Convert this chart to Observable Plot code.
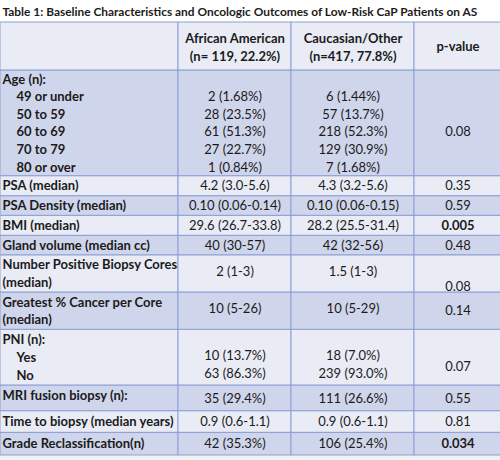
<!DOCTYPE html>
<html>
<head>
<meta charset="utf-8">
<script src="https://cdn.jsdelivr.net/npm/d3@7"></script>
<script src="https://cdn.jsdelivr.net/npm/@observablehq/plot@0.6"></script>
<style>
  html, body { margin: 0; padding: 0; background: #ffffff; }
  svg { display: block; }
</style>
</head>
<body>
<div id="chart"></div>
<script>
// ---------------- DATA ----------------
const title = "Table 1: Baseline Characteristics and Oncologic Outcomes of Low-Risk CaP Patients on AS";
const headerAA = ["African American", "(n= 119, 22.2%)"];
const headerCauc = ["Caucasian/Other", "(n=417, 77.8%)"];
const headerP = "p-value";

const variables = [
  ["Age (n):"],
  ["PSA (median)"],
  ["PSA Density (median)"],
  ["BMI (median)"],
  ["Gland volume (median cc)"],
  ["Number Positive Biopsy Cores", "(median)"],
  ["Greatest % Cancer per Core", "(median)"],
  ["PNI (n):"],
  ["MRI fusion biopsy (n):"],
  ["Time to biopsy (median years)"],
  ["Grade Reclassification(n)"]
];
const ageGroups = ["49 or under", "50 to 59", "60 to 69", "70 to 79", "80 or over"];
const ageAA = ["2 (1.68%)", "28 (23.5%)", "61 (51.3%)", "27 (22.7%)", "1 (0.84%)"];
const ageCauc = ["6 (1.44%)", "57 (13.7%)", "218 (52.3%)", "129 (30.9%)", "7 (1.68%)"];
const pniGroups = ["Yes", "No"];
const pniAA = ["10 (13.7%)", "63 (86.3%)"];
const pniCauc = ["18 (7.0%)", "239 (93.0%)"];
const valueAA = [null, "4.2 (3.0-5.6)", "0.10 (0.06-0.14)", "29.6 (26.7-33.8)", "40 (30-57)", "2 (1-3)", "10 (5-26)", null, "35 (29.4%)", "0.9 (0.6-1.1)", "42 (35.3%)"];
const valueCauc = [null, "4.3 (3.2-5.6)", "0.10 (0.06-0.15)", "28.2 (25.5-31.4)", "42 (32-56)", "1.5 (1-3)", "10 (5-29)", null, "111 (26.6%)", "0.9 (0.6-1.1)", "106 (25.4%)"];
const pValues = ["0.08", "0.35", "0.59", "0.005", "0.48", "0.08", "0.14", "0.07", "0.55", "0.81", "0.034"];
const significant = [false, false, false, true, false, false, false, false, false, false, true];

// ---------------- LAYOUT ----------------
const W = 500, H = 460;
const colWidths = [178, 113, 123, 87];
const colEdges = colWidths.reduce((a, w) => (a.push(a[a.length - 1] + w), a), [0]);
const tableTop = 22;
const lineH = 17.6;
// header + 11 variable rows
const rowLines = [2, 6, 1, 1, 1, 1, 2, 2, 3, 1, 1, 1];
const rowPad   = [13, 0, 2.4, 2, 2.4, 2, 2, 2, 3, 8, 4, 5];
const rows = [];
{
  let y = tableTop;
  rowLines.forEach((n, i) => {
    const h = n * lineH + rowPad[i];
    rows.push({ top: y, bottom: y + h, i });
    y += h;
  });
}
const lineY = (r, k) => rows[r].top + rowPad[r] / 2 + lineH * (k + 0.5);
const midY = r => (rows[r].top + rows[r].bottom) / 2;
const colMid = c => (colEdges[c] + colEdges[c + 1]) / 2;

const light = "#e9ebf5", dark = "#cfd5ea", border = "#8e9fd6", ink = "#1b1b1b";

// cells
const cells = [];
rows.forEach((r, ri) => {
  for (let c = 0; c < 4; c++) {
    cells.push({ x1: colEdges[c], x2: colEdges[c + 1], y1: r.top, y2: r.bottom,
                 fill: ri === 0 ? light : (ri % 2 === 1 ? dark : light) });
  }
});
// faint band below the table (continuation of the screenshot)
const below = [{ x1: 0, x2: W, y1: rows[rows.length - 1].bottom, y2: H }];

// texts
const boldText = [];
const regText = [];
headerAA.forEach((t, k) => boldText.push({ x: colMid(1), y: lineY(0, k) + 1, t, a: "middle" }));
headerCauc.forEach((t, k) => boldText.push({ x: colMid(2), y: lineY(0, k) + 1, t, a: "middle" }));
boldText.push({ x: colMid(3), y: midY(0), t: headerP, a: "middle" });

variables.forEach((lines, vi) => {
  const r = vi + 1;
  const n = rowLines[r];
  if (vi === 0) {
    boldText.push({ x: 2, y: lineY(r, 0), t: lines[0], a: "start" });
    ageGroups.forEach((g, k) => {
      boldText.push({ x: 16, y: lineY(r, k + 1), t: g, a: "start" });
      regText.push({ x: colMid(1), y: lineY(r, k + 1), t: ageAA[k], a: "middle" });
      regText.push({ x: colMid(2), y: lineY(r, k + 1), t: ageCauc[k], a: "middle" });
    });
    regText.push({ x: colMid(3), y: lineY(r, 3), t: pValues[vi], a: "middle" });
    return;
  }
  if (vi === 7) {
    boldText.push({ x: 2, y: lineY(r, 0), t: lines[0], a: "start" });
    pniGroups.forEach((g, k) => {
      boldText.push({ x: 16, y: lineY(r, k + 1), t: g, a: "start" });
      regText.push({ x: colMid(1), y: lineY(r, k + 1) - 2, t: pniAA[k], a: "middle" });
      regText.push({ x: colMid(2), y: lineY(r, k + 1) - 2, t: pniCauc[k], a: "middle" });
    });
    regText.push({ x: colMid(3), y: (lineY(r, 1) + lineY(r, 2)) / 2, t: pValues[vi], a: "middle" });
    return;
  }
  if (vi === 8) {
    boldText.push({ x: 2, y: rows[r].top + lineH / 2 + 1, t: lines[0], a: "start" });
  } else {
    lines.forEach((t, k) => boldText.push({ x: 2, y: lineY(r, k), t, a: "start" }));
  }
  regText.push({ x: colMid(1), y: midY(r) - (n > 1 ? 2 : 0), t: valueAA[vi], a: "middle" });
  regText.push({ x: colMid(2), y: midY(r) - (n > 1 ? 2 : 0), t: valueCauc[vi], a: "middle" });
  const py = vi === 5 ? lineY(r, 1) + 4 : midY(r);
  (significant[vi] ? boldText : regText).push({ x: colMid(3), y: py, t: pValues[vi], a: "middle" });
});

const font = "Lato, 'Open Sans', sans-serif";
const startB = boldText.filter(d => d.a === "start");
const midB = boldText.filter(d => d.a === "middle");

const chart = Plot.plot({
  width: W, height: H,
  margin: 0,
  style: { fontFamily: font, background: "#ffffff" },
  x: { type: "linear", domain: [0, W], range: [0, W], axis: null },
  y: { type: "linear", domain: [0, H], range: [0, H], axis: null },
  marks: [
    Plot.rect(below, { x1: "x1", x2: "x2", y1: "y1", y2: "y2", fill: "#f1f2f6" }),
    Plot.rect(cells, { x1: "x1", x2: "x2", y1: "y1", y2: "y2", fill: "fill", stroke: border, strokeWidth: 1 }),
    Plot.text([title], { x: 2, y: 12, text: d => d, textAnchor: "start", fontWeight: "bold", fontSize: 11.9, fill: ink, fontFamily: font }),
    Plot.text(startB, { x: "x", y: "y", text: "t", textAnchor: "start", fontWeight: "bold", fontSize: 13, fill: ink, fontFamily: font }),
    Plot.text(midB, { x: "x", y: "y", text: "t", textAnchor: "middle", fontWeight: "bold", fontSize: 13, fill: ink, fontFamily: font }),
    Plot.text(regText, { x: "x", y: "y", text: "t", textAnchor: "middle", fontSize: 13, fill: ink, fontFamily: font })
  ]
});
document.getElementById("chart").append(chart);
</script>
</body>
</html>
